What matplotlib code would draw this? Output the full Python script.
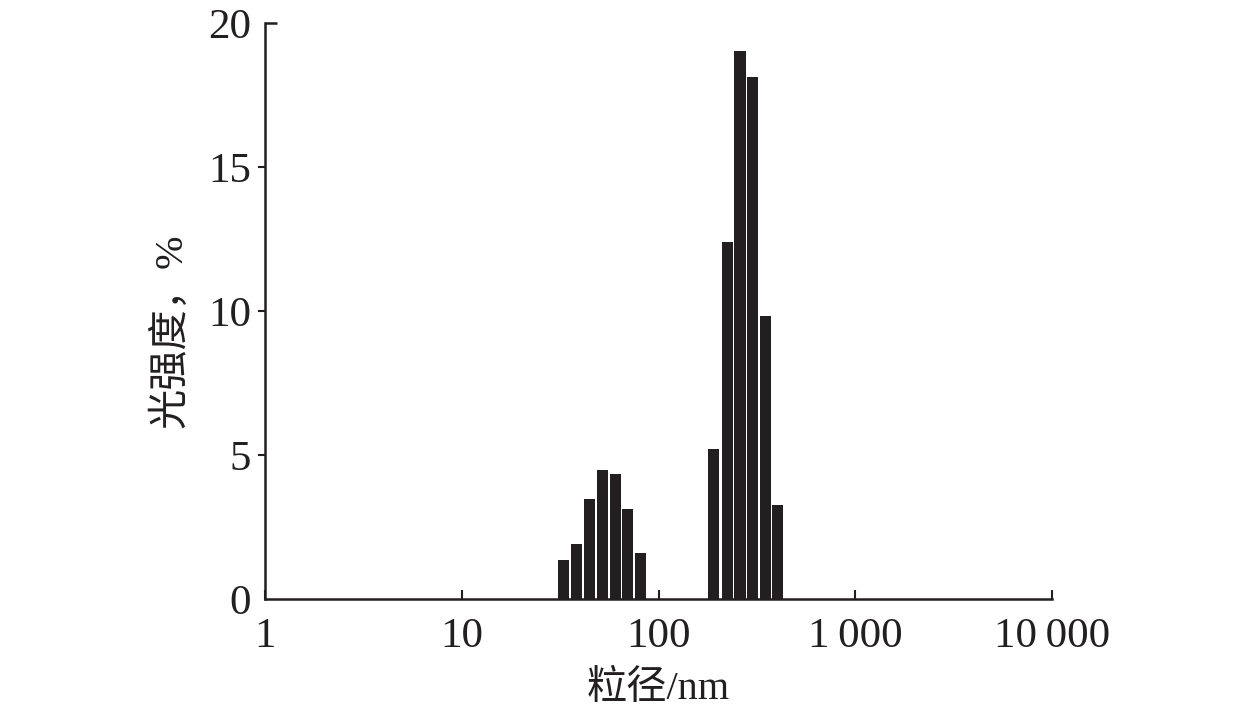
import numpy as np
import matplotlib
matplotlib.use('Agg')
import matplotlib.pyplot as plt

plt.rcParams['font.family'] = ['Liberation Serif', 'Noto Sans CJK SC']

# particle size (nm) at bar centres and light intensity (%)
sizes = [33.0, 38.5, 44.7, 51.8, 60.1, 69.4, 80.8,
         191, 223, 259.5, 302, 351, 403.7]
intensity = [1.35, 1.92, 3.46, 4.47, 4.35, 3.13, 1.61,
             5.2, 12.39, 19.04, 18.14, 9.82, 3.28]

xticks = [1, 10, 100, 1000, 10000]
xticklabels = ['1', '10', '100', '1\u2009000', '10\u2009000']
yticks = [5, 10, 15]
yends = [0, 20]

fig = plt.figure(figsize=(12.59, 7.11), dpi=100)
ax = fig.add_axes([0.2105, 0.1575, 0.6251, 0.8102])

# bars drawn in log space, about 0.028 decades either side of the centre
half = 10 ** 0.028
sizes = np.array(sizes)
left = sizes / half
ax.bar(left, intensity, width=sizes * half - left, align='edge',
       color='#231f20', edgecolor='none')

ax.set_xscale('log')
ax.set_xlim(1, 10000)
ax.set_ylim(yends[0], yends[1])
ax.set_xticks(xticks)
ax.set_xticklabels(xticklabels)
ax.xaxis.set_minor_locator(matplotlib.ticker.NullLocator())
ax.set_yticks(yticks)
# 0 and 20 get a label but no outward stub
ax.set_yticks(yends, labels=[str(v) for v in yends], minor=True)

for s in ['top', 'right']:
    ax.spines[s].set_visible(False)
for s in ['left', 'bottom']:
    ax.spines[s].set_linewidth(1.8)
    ax.spines[s].set_color('#231f20')

ax.tick_params(axis='x', direction='in', length=6.5, width=1.5,
               labelsize=31, pad=13, colors='#231f20')
ax.tick_params(axis='y', which='major', direction='out', length=5, width=1.5,
               labelsize=31, pad=5, colors='#231f20')
ax.tick_params(axis='y', which='minor', length=0, labelsize=31, pad=10,
               colors='#231f20')

# the top of the y axis ends in a short inward stub
ax.axhline(yends[1], xmin=0, xmax=0.015, color='#231f20', lw=1.8,
           clip_on=False, solid_capstyle='butt')

ax.set_xlabel('粒径/nm', fontsize=29, labelpad=11, color='#231f20')
ax.set_ylabel('光强度，%', fontsize=29, color='#231f20')
ax.yaxis.set_label_coords(-0.095, 0.465)

fig.savefig('out.png', dpi=100)
